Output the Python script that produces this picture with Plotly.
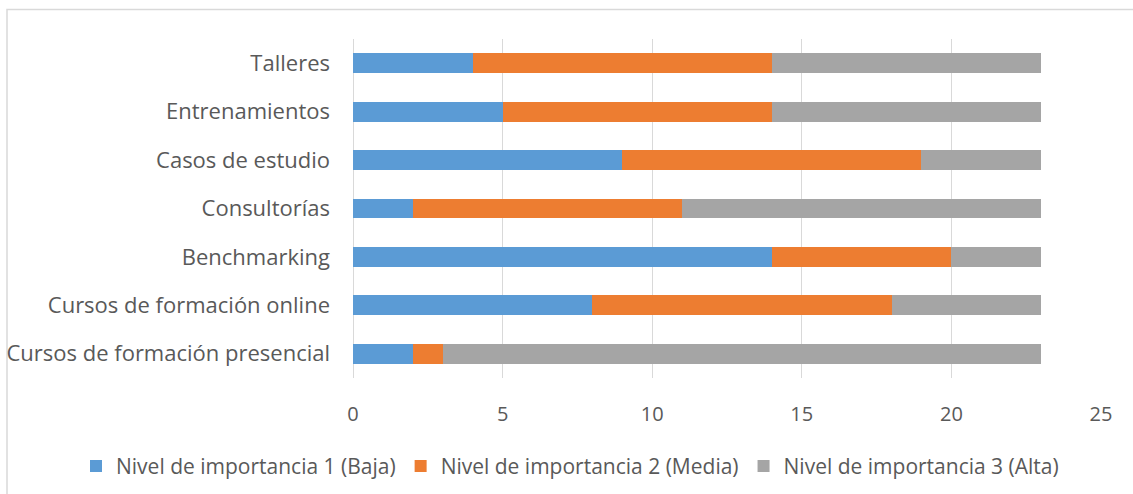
import plotly.graph_objects as go

categories = ["Cursos de formación presencial", "Cursos de formación online", "Benchmarking",
              "Consultorías", "Casos de estudio", "Entrenamientos", "Talleres"]
nivel1 = [2, 8, 14, 2, 9, 5, 4]
nivel2 = [1, 10, 6, 9, 10, 9, 10]
nivel3 = [20, 5, 3, 12, 4, 9, 9]
series_names = ["Nivel de importancia 1 (Baja)", "Nivel de importancia 2 (Media)", "Nivel de importancia 3 (Alta)"]
colors = ["#5B9BD5", "#ED7D31", "#A5A5A5"]
x_ticks = [0, 5, 10, 15, 20, 25]

FONT = "Open Sans"
fig = go.Figure()
for name, vals, col in zip(series_names, [nivel1, nivel2, nivel3], colors):
    fig.add_trace(go.Bar(y=categories, x=vals, name=name, orientation="h",
                         marker=dict(color=col, line=dict(width=0))))

W, H = 1133, 494
l, r, t, b = 353, 32, 39, 115.5
pw, ph = W - l - r, H - t - b

def px2paper_x(px):
    return (px - l) / pw

def px2paper_y(py):
    return (H - b - py) / ph

fig.update_layout(
    width=W, height=H, barmode="stack", bargap=0.59,
    margin=dict(l=l, r=r, t=t, b=b, pad=0, autoexpand=False),
    paper_bgcolor="white", plot_bgcolor="white",
    font=dict(family=FONT, size=19, color="#595959"),
    showlegend=True,
    legend=dict(orientation="h", xref="paper", yref="paper",
                x=px2paper_x(76), xanchor="left", y=px2paper_y(467), yanchor="middle",
                font=dict(family=FONT, size=21, color="#595959"),
                traceorder="normal", itemclick=False, itemwidth=30),
    xaxis=dict(range=[0, 25], tickvals=x_ticks, showgrid=True, gridcolor="#D9D9D9", gridwidth=1.3,
               zeroline=True, zerolinecolor="#D9D9D9", zerolinewidth=1.3, showline=False,
               ticks="", tickfont=dict(family=FONT, size=20, color="#595959"),
               ticklabelstandoff=22, fixedrange=True, automargin=False),
    yaxis=dict(type="category", categoryorder="array", categoryarray=categories,
               showgrid=False, zeroline=False, showline=False, ticks="",
               tickfont=dict(family=FONT, size=22, color="#595959"),
               ticklabelstandoff=22, fixedrange=True, automargin=False),
    shapes=[dict(type="rect", xref="paper", yref="paper",
                 x0=px2paper_x(7), x1=px2paper_x(1145),
                 y0=px2paper_y(505), y1=px2paper_y(9.5),
                 line=dict(color="#D9D9D9", width=1.5), fillcolor="rgba(0,0,0,0)", layer="below")],
)

fig.write_html("out.html")
